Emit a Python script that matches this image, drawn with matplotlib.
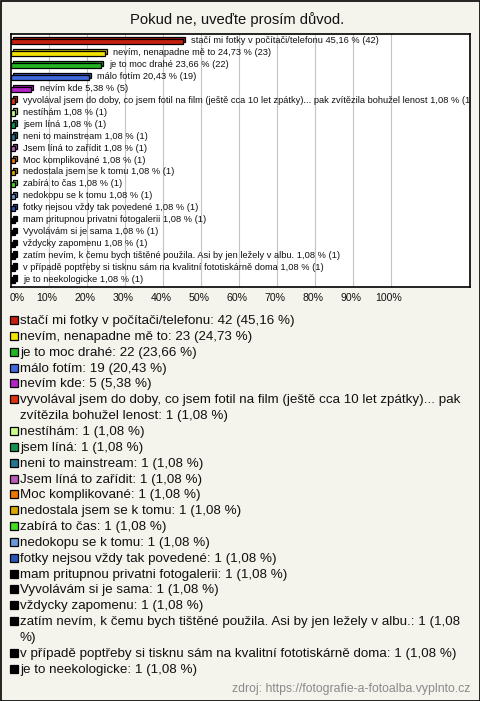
import matplotlib
matplotlib.use("Agg")
import matplotlib.pyplot as plt
import matplotlib.colors as mc
from matplotlib.patches import Rectangle
from matplotlib.transforms import ScaledTranslation

# ---------------- data ----------------
title = "Pokud ne, uveďte prosím důvod."
source = "zdroj: https://fotografie-a-fotoalba.vyplnto.cz"
categories = [
    "stačí mi fotky v počítači/telefonu",
    "nevím, nenapadne mě to",
    "je to moc drahé",
    "málo fotím",
    "nevím kde",
    "vyvolával jsem do doby, co jsem fotil na film (ještě cca 10 let zpátky)... pak zvítězila bohužel lenost",
    "nestíhám",
    "jsem líná",
    "neni to mainstream",
    "Jsem líná to zařídit",
    "Moc komplikované",
    "nedostala jsem se k tomu",
    "zabírá to čas",
    "nedokopu se k tomu",
    "fotky nejsou vždy tak povedené",
    "mam pritupnou privatni fotogalerii",
    "Vyvolávám si je sama",
    "vždycky zapomenu",
    "zatím nevím, k čemu bych tištěné použila. Asi by jen ležely v albu.",
    "v případě poptřeby si tisknu sám na kvalitní fototiskárně doma",
    "je to neekologicke",
]
counts = [42, 23, 22, 19, 5, 1, 1, 1, 1, 1, 1, 1, 1, 1, 1, 1, 1, 1, 1, 1, 1]
percents = [45.16, 24.73, 23.66, 20.43, 5.38, 1.08, 1.08, 1.08, 1.08, 1.08,
            1.08, 1.08, 1.08, 1.08, 1.08, 1.08, 1.08, 1.08, 1.08, 1.08, 1.08]
colors = ["#c8200e", "#f2e200", "#22b422", "#4169dd", "#b522c8", "#e0330f",
          "#ccff88", "#129550", "#237590", "#bb5cbb", "#ee7700", "#dca800",
          "#44dd22", "#6a96dc", "#2556b8", "#000000", "#000000", "#000000",
          "#000000", "#000000", "#000000"]
xticks = [0, 10, 20, 30, 40, 50, 60, 70, 80, 90, 100]
xticklabels = ["0%", "10%", "20%", "30%", "40%", "50%", "60%", "70%", "80%", "90%", "100%"]

# ---------------- layout ----------------
W, H = 480, 701
DPI = 100
BG = "#f4f3ec"
FONT = "Liberation Sans"
plt.rcParams["font.family"] = [FONT, "DejaVu Sans"]

fig = plt.figure(figsize=(W / DPI, H / DPI), dpi=DPI, facecolor=BG)

def fx(px):
    return px / W

def fy(py):
    return 1 - py / H

# overlay axes in pixel coordinates
ov = fig.add_axes([0, 0, 1, 1])
ov.set_xlim(0, W)
ov.set_ylim(H, 0)
ov.axis("off")
ov.add_patch(Rectangle((0.5, 0.5), W - 1, H - 1, fill=False, edgecolor="black", lw=1.2))

ov.text(237, 20, title, ha="center", va="center", fontsize=10.6, color="#111111")

# main bar axes
ax_l, ax_r, ax_t, ax_b = 11, 470, 33.5, 287
px10 = 38.0  # pixels per 10 %
ax = fig.add_axes([fx(ax_l), fy(ax_b), fx(ax_r - ax_l), (ax_b - ax_t) / H])
ax.set_facecolor("white")
n = len(categories)
xmax = (ax_r - ax_l) / px10 * 10
ax.set_xlim(0, xmax)
ax.set_ylim(n - 1 + 0.59, -0.67)
for s in ax.spines.values():
    s.set_color("black")
    s.set_linewidth(1.2)
ax.set_yticks([])
ax.set_xticks(xticks)
ax.set_xticklabels([])
ax.tick_params(axis="x", length=0)
for t in xticks[1:]:
    ax.axvline(t, color="#c4c4c4", lw=0.8, zorder=0)

ys = list(range(n))
off = ScaledTranslation(2.0 / DPI, 2.0 / DPI, fig.dpi_scale_trans)
h = 0.45

def shade(c, f):
    r, g, b = mc.to_rgb(c)
    return (r * f, g * f, b * f)

for y, v, c in zip(ys, percents, colors):
    back = Rectangle((0, y - h / 2), v, h, facecolor=shade(c, 0.8),
                     edgecolor="black", lw=0.9, transform=ax.transData + off, zorder=2)
    ax.add_patch(back)
ax.barh(ys, percents, height=h, color=colors, edgecolor="black", lw=0.9, zorder=3)

for y, v, cat, cnt in zip(ys, percents, categories, counts):
    pct = f"{v:.2f}".replace(".", ",")
    ax.annotate(f"{cat} {pct} % ({cnt})", xy=(v, y), xytext=(6, 0.5),
                textcoords="offset points", ha="left", va="center",
                fontsize=6.7, color="#111111", zorder=4, clip_on=True,
                annotation_clip=False)

# tick labels
for t, lab in zip(xticks, xticklabels):
    xp = ax_l + t * px10 / 10
    if t == 0:
        ov.text(ax_l - 1, 298, lab, ha="left", va="center", fontsize=7.6, color="#111111")
    else:
        ov.text(xp - 2, 298, lab, ha="center", va="center", fontsize=7.6, color="#111111")

# legend
renderer = fig.canvas.get_renderer()
LEG_FS = 9.6
maxw = 452

def wrap(text):
    words = text.split(" ")
    lines = []
    cur = ""
    for w in words:
        trial = w if not cur else cur + " " + w
        tt = ov.text(0, 0, trial, fontsize=LEG_FS)
        wid = tt.get_window_extent(renderer).width
        tt.remove()
        if wid > maxw and cur:
            lines.append(cur)
            cur = w
        else:
            cur = trial
    lines.append(cur)
    return lines

line_y = 321
step = 15.85
for cat, cnt, v, c in zip(categories, counts, percents, colors):
    pct = f"{v:.2f}".replace(".", ",")
    lines = wrap(f"{cat}: {cnt} ({pct} %)")
    ov.add_patch(Rectangle((9.5, line_y - 5), 8, 8, facecolor=c, edgecolor="black", lw=0.9))
    for k, ln in enumerate(lines):
        ov.text(20, line_y, ln, ha="left", va="center", fontsize=LEG_FS, color="#111111")
        line_y += step

ov.text(470, 689, source, ha="right", va="center", fontsize=8.8, color="#8a8a8a")

fig.savefig("out.png", dpi=DPI, facecolor=BG)
